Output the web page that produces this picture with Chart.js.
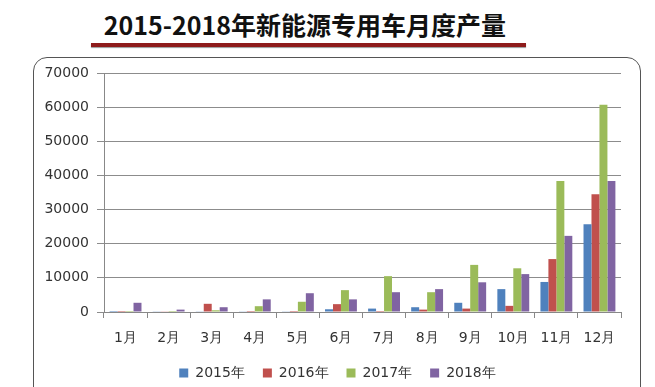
<!DOCTYPE html>
<html>
<head>
<meta charset="utf-8">
<script src="https://cdn.jsdelivr.net/npm/chart.js@4"></script>
<style>
    html, body { margin: 0; padding: 0; background: #fff; }
    body { width: 655px; height: 387px; position: relative; overflow: hidden; }
    #titulo {
        position: absolute; left: 0; top: 8px; width: 610px; text-align: center;
        font-family: "Noto Sans CJK SC", sans-serif; font-weight: bold; font-size: 25px;
        color: #111; line-height: 32px;
    }
    #linha {
        position: absolute; left: 91px; top: 43px; width: 435px; height: 4px;
        background: #8e1b1b; box-shadow: 0 1px 1px #999;
    }
    #moldura {
        position: absolute; left: 33px; top: 57px; width: 606px; height: 360px;
        border: 1.5px solid #555; border-radius: 14px;
    }
    #grafico { position: absolute; left: 0; top: 0; }
</style>
</head>
<body>
<div id="titulo">2015-2018年新能源专用车月度产量</div>
<div id="linha"></div>
<div id="moldura"></div>
<canvas id="grafico" width="655" height="387"></canvas>
<script>
// Dados (valores aproximados)
const meses = ['1月', '2月', '3月', '4月', '5月', '6月', '7月', '8月', '9月', '10月', '11月', '12月'];
const serieNomes = ['2015年', '2016年', '2017年', '2018年'];
const valores2015 = [300, 200, 200, 200, 200, 800, 1000, 1400, 2700, 6700, 8800, 25700];
const valores2016 = [300, 200, 2400, 300, 300, 2300, 300, 700, 1000, 1800, 15500, 34500];
const valores2017 = [300, 300, 500, 1700, 3000, 6400, 10500, 5800, 13800, 12800, 38400, 60700];
const valores2018 = [2700, 700, 1400, 3700, 5500, 3700, 5800, 6700, 8700, 11100, 22300, 38400];
const ticksY = [0, 10000, 20000, 30000, 40000, 50000, 60000, 70000];

const cores = ['#4f81bd', '#c0504d', '#9bbb59', '#8064a2'];
const todasSeries = [valores2015, valores2016, valores2017, valores2018];

const ctx = document.getElementById('grafico').getContext('2d');

// empurra a legenda para ficar na mesma posição do original
const ajusteLegenda = {
    id: 'ajusteLegenda',
    afterLayout(chart) {
        const lg = chart.legend;
        const h = lg.bottom - lg.top;
        lg.left = 52;
        lg.right = 623;
        lg.top = 348;
        lg.bottom = 348 + h;
    }
};

const config = {
    type: 'bar',
    data: {
        labels: meses,
        datasets: todasSeries.map((dados, i) => ({
            label: serieNomes[i],
            data: dados,
            backgroundColor: cores[i],
            borderWidth: 0,
            categoryPercentage: 0.74,
            barPercentage: 1.0
        }))
    },
    options: {
        responsive: false,
        animation: false,
        layout: { padding: { left: 0, right: 34, top: 73, bottom: 0 } },
        plugins: {
            legend: {
                position: 'bottom',
                labels: {
                    boxWidth: 9, boxHeight: 9, padding: 18,
                    color: '#333',
                    font: { family: 'DejaVu Sans', size: 14 }
                }
            },
            tooltip: { enabled: false }
        },
        scales: {
            x: {
                grid: { display: true, drawOnChartArea: false, drawTicks: true, tickLength: 6, color: '#888', offset: true },
                border: { display: true, color: '#888' },
                ticks: { color: '#333', font: { family: 'DejaVu Sans', size: 14 }, padding: 12 },
                afterFit: (escala) => { escala.height = 33; }
            },
            y: {
                min: 0, max: 70000,
                afterBuildTicks: (escala) => { escala.ticks = ticksY.map(v => ({ value: v })); },
                grid: { color: '#8c8c8c', tickLength: 7 },
                border: { display: true, color: '#888' },
                ticks: {
                    color: '#333', font: { family: 'DejaVu Sans', size: 14 }, padding: 8,
                    callback: (v) => String(v)
                },
                afterFit: (escala) => { escala.width = 104; }
            }
        }
    },
    plugins: [ajusteLegenda]
};

const grafico = new Chart(ctx, config);
</script>
</body>
</html>
